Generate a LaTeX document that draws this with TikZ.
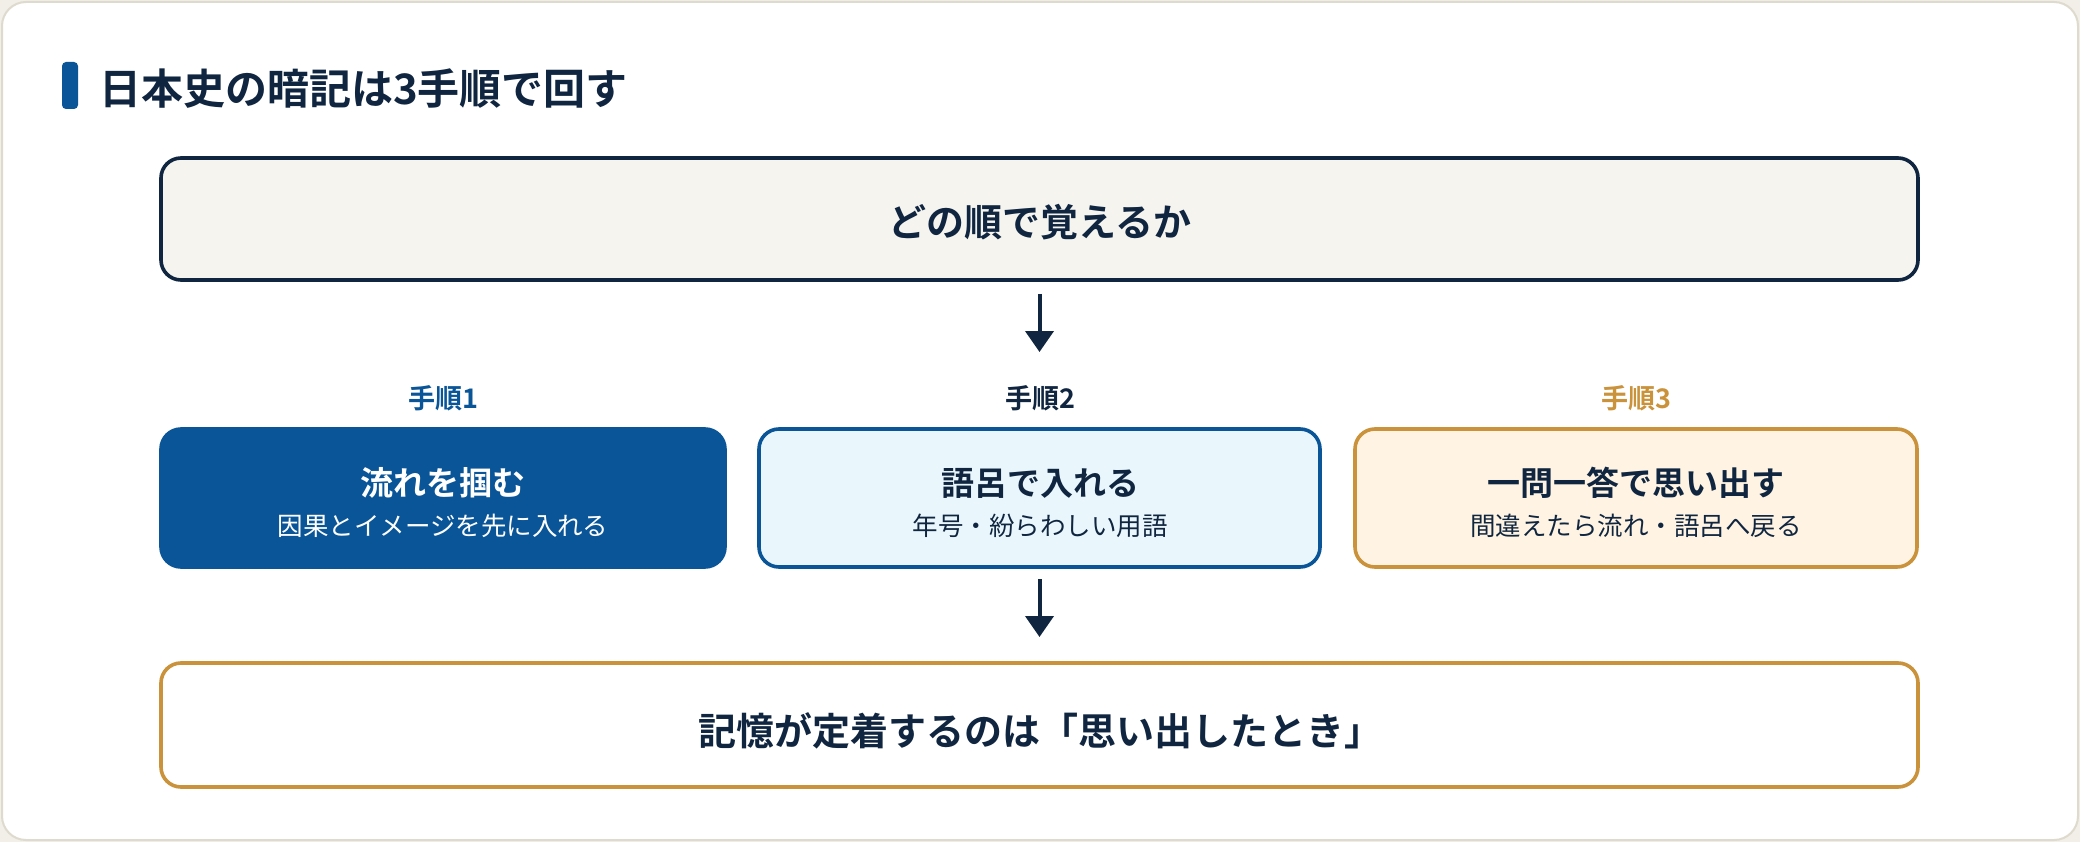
\documentclass[tikz,border=0pt]{standalone}
\usepackage{fontspec}
\setmainfont{Noto Sans CJK JP}[BoldFont={* Bold}]
\usetikzlibrary{arrows.meta}
\definecolor{navy}{HTML}{10253F}
\definecolor{blue}{HTML}{0A5598}
\definecolor{gold}{HTML}{C9923B}
\definecolor{cyanfill}{HTML}{E9F7FC}
\definecolor{creamfill}{HTML}{FFF4E3}
\definecolor{topfill}{HTML}{F5F4EF}
\definecolor{cardborder}{HTML}{DEDACD}
\definecolor{pagebg}{HTML}{F1EFE8}
\newcommand{\fs}[1]{\fontsize{#1}{#1}\selectfont}
\tikzset{
  box/.style={rounded corners=20pt, line width=3.6pt, inner sep=0pt, outer sep=0pt},
  txt/.style={anchor=base, inner sep=0pt, outer sep=0pt, font=\bfseries},
  arr/.style={line width=4pt, draw=navy, -{Triangle[width=28pt,length=21pt]}},
}
\begin{document}
\begin{tikzpicture}[x=1pt,y=-1pt]
\useasboundingbox (0,0) rectangle (2080,842);
\fill[pagebg] (0,0) rectangle (2080,842);
\draw[fill=white, draw=cardborder, line width=2pt, rounded corners=24pt] (2,2) rectangle (2078,840);
% title
\fill[blue, rounded corners=4pt] (62,62) rectangle (78,109);
\node[txt, anchor=base west, text=navy, font=\bfseries\fs{42}] (title) at (99,105) {日本史の暗記は3手順で回す};
% top box
\node[box, draw=navy, fill=topfill, minimum width=1757pt, minimum height=122pt] (top) at (1039.5,219) {};
\node[txt, text=navy, font=\bfseries\fs{38}] (toptxt) at (1040,236.5) {どの順で覚えるか};
% step labels
\node[txt, text=blue, font=\bfseries\fs{27}] (l1) at (443,408) {手順1};
\node[txt, text=navy, font=\bfseries\fs{27}] (l2) at (1040,408) {手順2};
\node[txt, text=gold, font=\bfseries\fs{27}] (l3) at (1636,408) {手順3};
% step boxes
\node[box, draw=blue, fill=blue, minimum width=564pt, minimum height=138pt] (b1) at (443,498) {};
\node[box, draw=blue, fill=cyanfill, minimum width=561pt, minimum height=138pt] (b2) at (1039.5,498) {};
\node[box, draw=gold, fill=creamfill, minimum width=562pt, minimum height=138pt] (b3) at (1636,498) {};
\node[txt, text=white, font=\bfseries\fs{33}] (b1t) at (443,495.5) {流れを掴む};
\node[txt, text=white, font=\fs{25.5}] (b1s) at (443,535.7) {因果とイメージを先に入れる};
\node[txt, text=navy, font=\bfseries\fs{33}] (b2t) at (1040,495.5) {語呂で入れる};
\node[txt, text=navy, font=\fs{25.5}] (b2s) at (1040,535.7) {年号・紛らわしい用語};
\node[txt, text=navy, font=\bfseries\fs{33}] (b3t) at (1636,495.5) {一問一答で思い出す};
\node[txt, text=navy, font=\fs{25.5}] (b3s) at (1636,535.7) {間違えたら流れ・語呂へ戻る};
% bottom box
\node[box, draw=gold, fill=white, minimum width=1757pt, minimum height=124pt] (bot) at (1039.5,725) {};
\node[txt, text=navy, font=\bfseries\fs{38}] (bottxt) at (1040,745.5) {記憶が定着するのは「思い出したとき」};
% arrows
\draw[arr, shorten <=14pt, shorten >=77pt] (top.south) -- (b2.north);
\draw[arr, shorten <=12pt, shorten >=26pt] (b2.south) -- (bot.north);
\end{tikzpicture}
\end{document}
